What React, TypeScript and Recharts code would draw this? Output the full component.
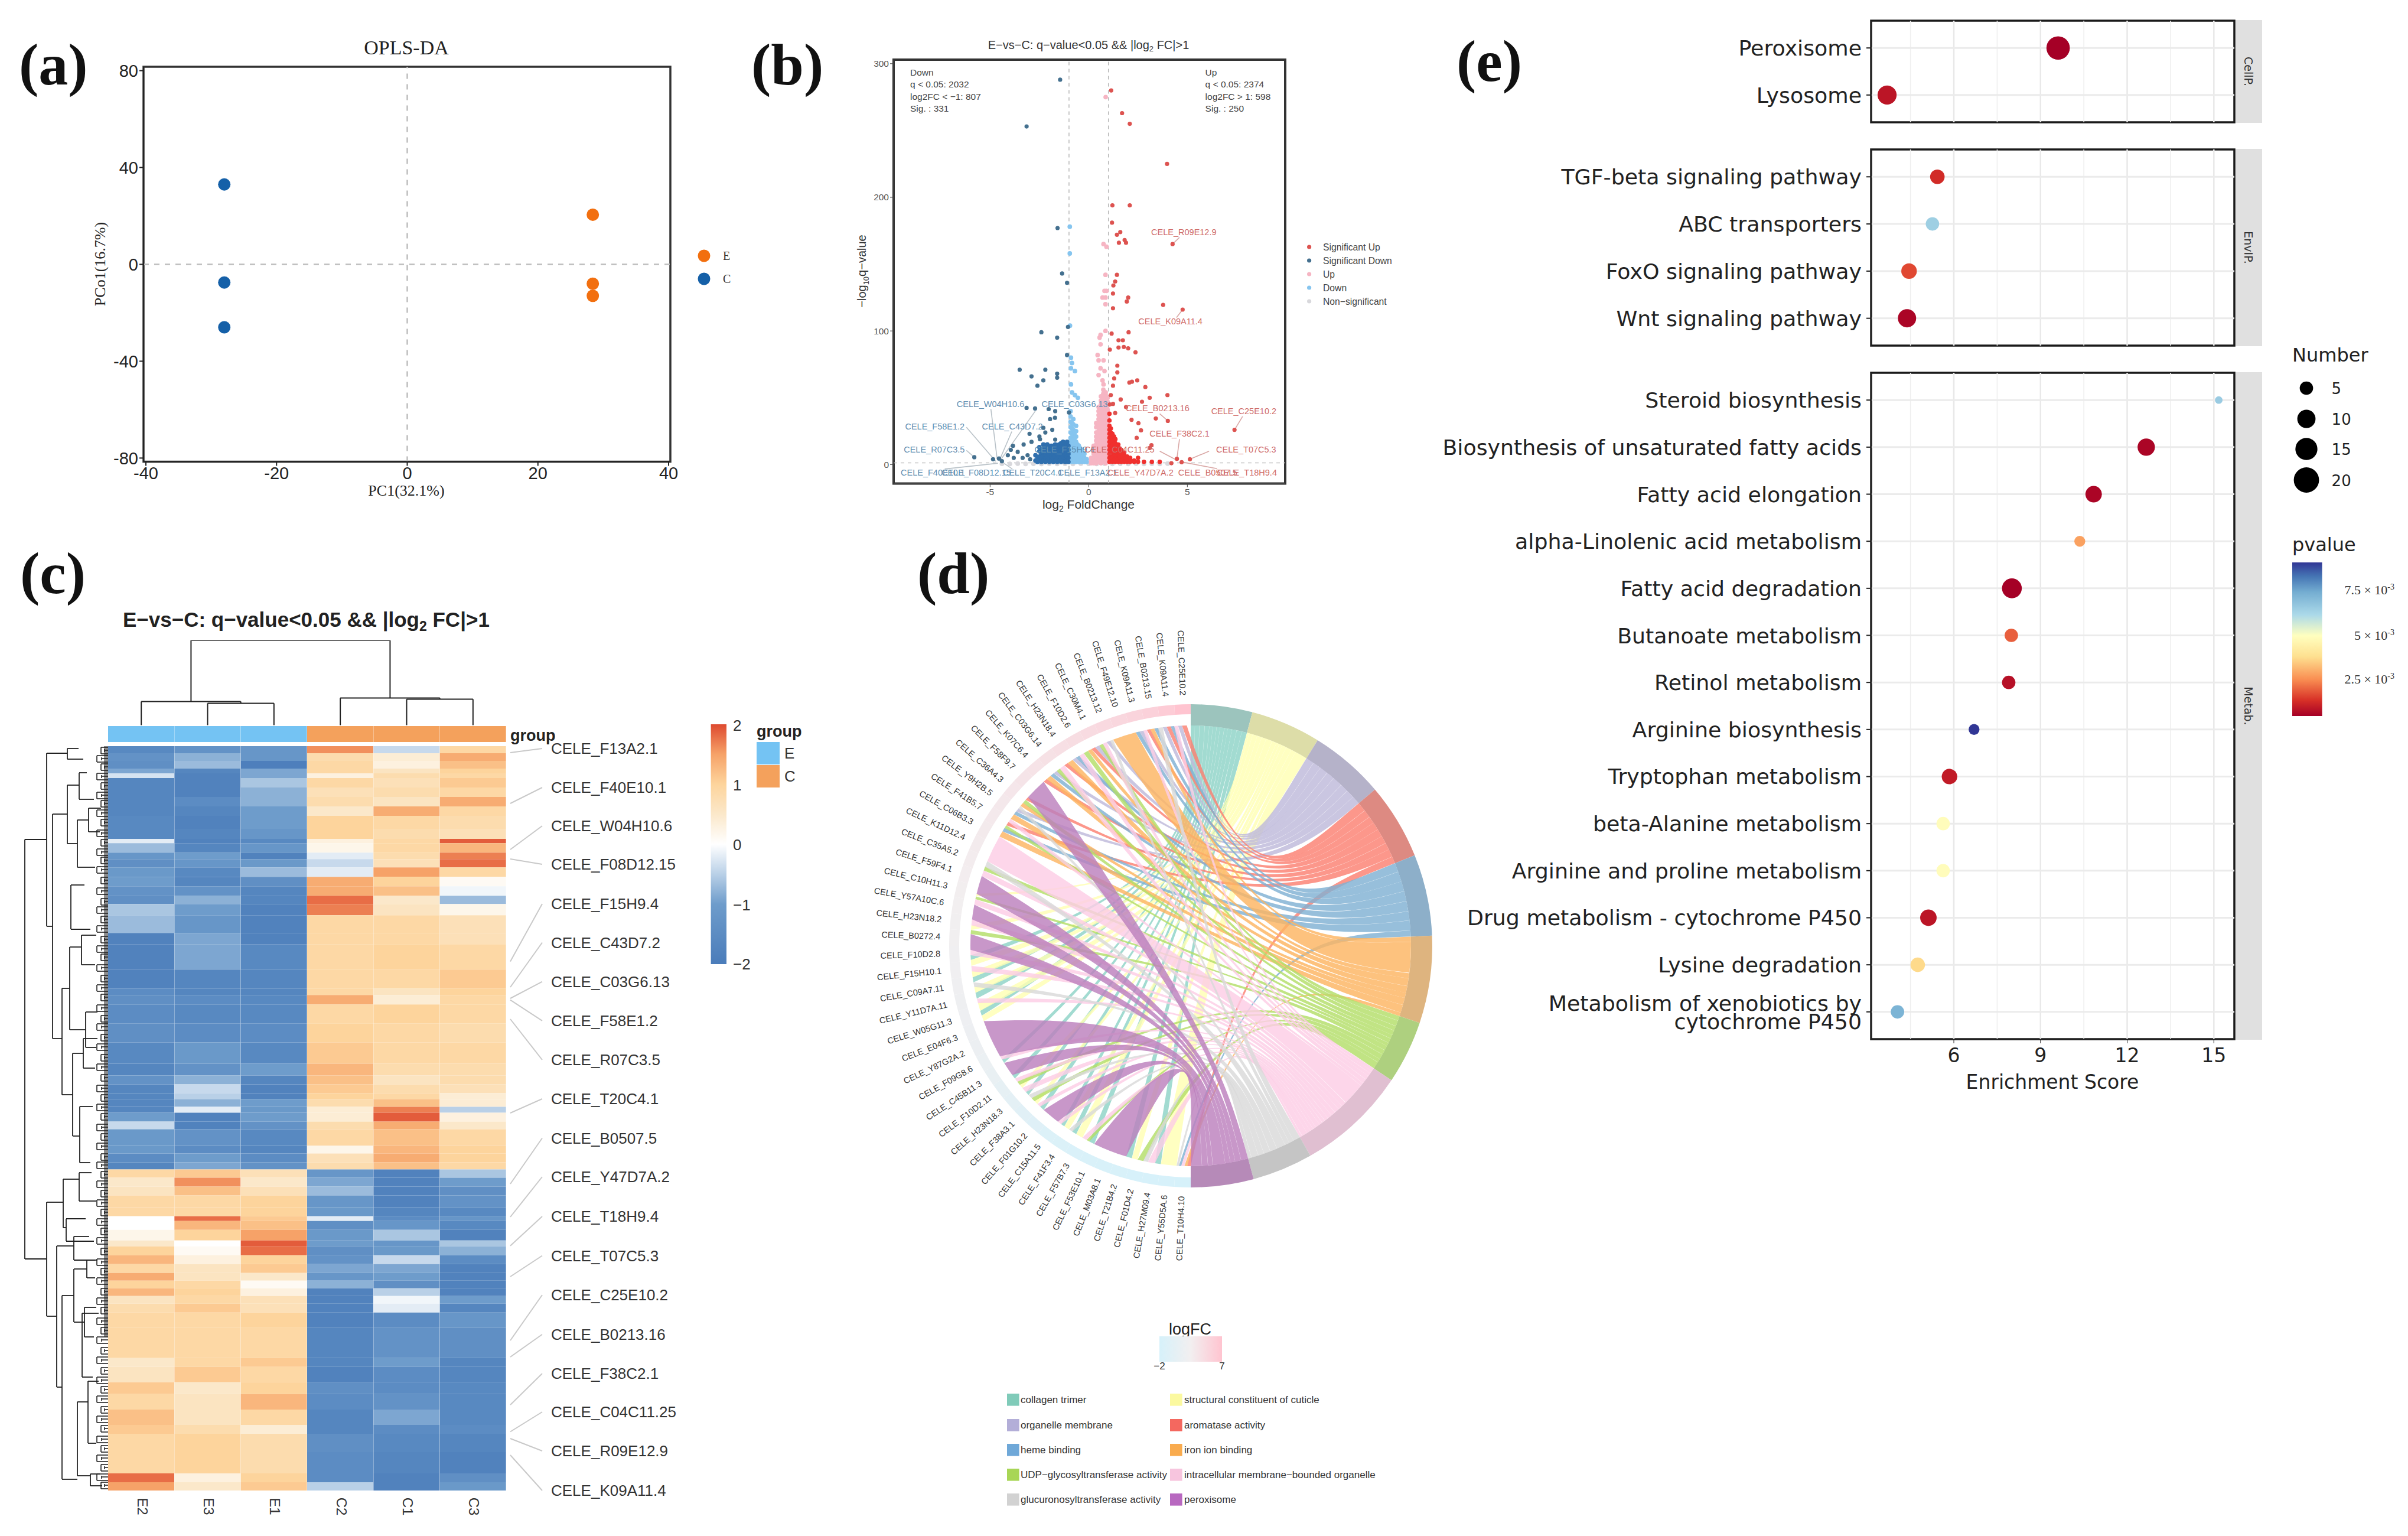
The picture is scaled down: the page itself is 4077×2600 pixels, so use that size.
import React from 'react';
import { ScatterChart, Scatter, XAxis, YAxis, ReferenceLine, ReferenceArea, BarChart, Bar, Cell, PieChart, Pie } from 'recharts';

// ---------- panel a ----------
const opls_E = [{ x: 28.4, y: 20.5 }, { x: 28.4, y: -8 }, { x: 28.4, y: -13 }];
const opls_C = [{ x: -28, y: 33 }, { x: -28, y: -7.5 }, { x: -28, y: -26 }];

// ---------- panel b ----------
const sigUpSparse = [[1.14,280],[1.69,263],[2.08,255],[3.97,225],[1.2,194],[2.08,194],[1.18,181],[1.6,174],[1.43,172],[1.53,166],[1.82,168],[1.89,166],[4.25,165],[1.43,142],[1.34,137],[1.25,134],[1.23,128],[2,125],[1.93,122],[3.77,119.5],[4.76,116],[1.23,117],[1.16,98],[2.02,99],[1.51,93],[1.73,93],[1.51,87.6],[1.78,88],[1.07,86],[2,87],[2.37,84],[1.45,74],[1.45,69],[2.46,63],[1.29,64.5],[1.23,59],[2.06,61.4],[2.19,62],[2.87,58],[3.99,52],[3.09,50],[2.7,47],[1.62,48.7],[1.12,52],[1.07,45],[1.23,45.4],[1.89,43],[4.01,32.7],[3.4,34.5],[2.17,33.5],[2.52,31],[1.34,38.6],[7.39,26],[2.65,25.6],[2.43,20],[3.18,14.5],[3.09,12.4],[4.47,4.3],[5.13,4],[4.71,1.8],[4.19,1]];
const sigUpCols: [number, number[]][] = [[1.05,[2,5,8,11,14,17,20,23,26,29,33,38]],[1.12,[3,6,9,12,15,18,21,24,27]],[1.2,[2,5,8,11,14,17,20,23]],[1.28,[3,6,9,12,15,18,21]],[1.35,[2,4,7,10,13,16,19]],[1.42,[3,6,9,12,15]],[1.5,[2,4,7,10,13,15]],[1.58,[3,6,9,12]],[1.65,[2,5,8,11]],[1.72,[3,6,9]],[1.8,[2,4,7,9]],[1.88,[3,5]],[1.95,[2,4,6]],[2.1,[2,3,5]],[2.3,[2,3]],[2.5,[2,5]],[2.8,[2]],[3.2,[2]],[3.6,[2]]];
const sigDownSparse = [[-1.45,288],[-3.15,253],[-1.58,177],[-1.35,143],[-1.1,136],[-1.05,103],[-2.4,99],[-1.6,95],[-1.1,82],[-3.5,71],[-2.9,66],[-2.2,71],[-2.3,63],[-2.6,59],[-1.6,68],[-1.6,65],[-3.15,42.4],[-2.72,42],[-2.03,41.5],[-1.7,40],[-1,39],[-1.96,34],[-1.71,35],[-2.2,24],[-1.85,26],[-2.5,21],[-3,23],[-2.3,27.5],[-1.7,18.7],[-3.84,14],[-3.3,15],[-2.9,17],[-2.47,19],[-3.6,9.5],[-4.1,7],[-3.8,5],[-4.55,4.5],[-4.85,4],[-4.4,2.5],[-5.8,5.5],[-3.35,5],[-2.97,4],[-3.1,7],[-3.95,11]];
const sigDownCols: [number, number[]][] = [[-2.7,[3,7]],[-2.6,[2,5]],[-2.5,[3,6,10,13]],[-2.4,[2,5,8,11]],[-2.3,[3,6,9,12,15]],[-2.2,[2,5,8,11,14]],[-2.1,[3,6,9,12,15]],[-2,[2,5,8,11,13]],[-1.9,[3,6,9,12,14]],[-1.8,[2,5,8,11,14]],[-1.7,[3,6,9,12,15]],[-1.6,[2,5,8,11,14]],[-1.5,[3,6,9,12,15]],[-1.4,[2,5,8,11,14,16]],[-1.3,[3,6,9,12,14,17]],[-1.2,[2,5,8,11,14,16]],[-1.1,[3,6,9,12,15,17]],[-1.03,[2,5,8,11,14]]];
const upCols: [number, number[]][] = [[0.12,[1,3,5]],[0.25,[1,3,5,8,11,14]],[0.38,[1,3,6,9,12,15,18,21,24,28,31]],[0.5,[2,4,7,10,13,16,19,22,25,28,31,34,37,40,43]],[0.62,[1,3,6,9,12,15,18,21,24,27,30,33,36,39,42,45,48,51]],[0.74,[2,5,8,11,14,17,20,23,26,29,32,35,38,41,44,47,50,53,56]],[0.86,[1,4,7,10,13,16,19,22,25,28,31,34,37,40,43,46,49,52,54]],[0.96,[2,5,8,11,14,17,20,23,26,29,32,35,38,41,44,47,50]]];
const upSparse = [[0.75,165],[0.9,163],[0.85,142],[0.8,130],[0.9,130],[0.7,125],[0.85,125],[0.85,120],[0.86,275],[0.85,100],[0.6,97],[0.55,95],[0.6,90],[0.45,82],[0.5,78],[0.75,78],[0.6,72],[0.8,70],[0.5,67],[0.7,63],[0.75,60]];
const downCols: [number, number[]][] = [[-0.92,[2,5,8,11,14,17,20,24,28,32,36,40]],[-0.85,[3,6,9,12,15,19,23,27,31]],[-0.78,[2,5,8,11,14,18,22,26,30,34]],[-0.71,[3,6,9,12,16,20,24]],[-0.64,[2,5,8,11,14,17,21,25,29]],[-0.57,[3,6,9,12,15]],[-0.5,[2,5,8,11,14]],[-0.43,[3,6,9,12]],[-0.36,[2,5,8,11]],[-0.29,[3,6,9]],[-0.22,[2,5,8]],[-0.1,[2,4]]];
const downSparse = [[-0.96,178],[-0.96,158],[-0.95,104],[-0.9,80],[-0.85,76],[-0.9,72],[-0.7,70],[-0.9,60],[-0.85,54],[-0.7,52],[-0.55,50]];
const nsPoints = [[-4.4,0.6],[-4,0.5],[-3.6,0.7],[-3.2,0.5],[-2.8,0.6],[-2.4,0.5],[-2,0.7],[-1.6,0.5],[-1.2,0.6],[-0.8,0.5],[-0.4,0.7],[0,0.6],[0.4,0.5],[0.8,0.7],[1.2,0.5],[1.6,0.6],[2,0.5],[2.4,0.7],[2.8,0.5],[3.2,0.6],[3.6,0.5],[4,0.7]];
const volcanoBlueLabels = [['CELE_W04H10.6',-4.98,45.4],['CELE_C03G6.13',-0.71,45.4],['CELE_F58E1.2',-7.8,28.4],['CELE_C43D7.2',-3.87,28.4],['CELE_R07C3.5',-7.83,11.4],['CELE_F15H9.4',-1.23,11.4],['CELE_F40E10.1',-7.9,-6.2],['CELE_F08D12.15',-5.7,-6.2],['CELE_T20C4.1',-2.84,-6.2],['CELE_F13A2.1',-0.06,-6.2]];
const volcanoRedLabels = [['CELE_R09E12.9',4.82,174],['CELE_K09A11.4',4.14,107],['CELE_B0213.16',3.49,42],['CELE_C25E10.2',7.86,40],['CELE_F38C2.1',4.6,23],['CELE_T07C5.3',7.98,11.4],['CELE_C04C11.25',1.56,11.4],['CELE_Y47D7A.2',2.62,-6.2],['CELE_B0507.5',6.03,-6.2],['CELE_T18H9.4',8.02,-6.2]];
const volcanoLeaders = [[-4.96,41.6,-4.64,4.1],[-2.71,40,-4.52,2.4],[-6.2,27.9,-4.71,2.4],[-3.9,24.7,-4.52,3.4],[-6.2,10.6,-5.8,5.5],[-7.3,-3.3,-4.6,1],[-3.87,-3.3,-4.3,1],[4.6,170,4.25,165],[4.45,110,4.76,116],[3.6,38,4.01,32.7],[7.8,36,7.39,26],[4.6,19,4.47,4.5],[6.1,10,5.13,4],[3.6,10,4.4,3.8],[6.5,-3,4.7,2]];

// ---------- panel c ----------
const heatSamples = ['E2', 'E3', 'E1', 'C2', 'C1', 'C3'];
const heatRows = [
[12,-1.6,-1.3,-1.2,1.6,-.4,.9],[13,-1.3,-.8,-1.2,.8,.4,1.4],[13,-1.4,-.7,-1.9,.9,.3,1.2],[8,-.9,-1.7,-.9,.9,.6,1],[8,-.3,-1.8,-.9,.3,.8,.9],
[16,-1.7,-1.8,-.6,.9,.7,1.1],[16,-1.7,-1.8,-.8,.7,.8,.9],[16,-1.7,-1.5,-.8,.8,.6,1.4],[16,-1.7,-1.7,-1,.5,1.4,.9],[22,-1.6,-1.8,-1,1,.9,.8],
[17,-1.6,-1.7,-1.2,1,.8,.7],[7,-.2,-1.8,-1.6,.3,.9,1.9],[16,-.7,-1.7,-1.2,.2,.9,1.3],[11,-1.2,-1,-1.8,-.2,.8,1.7],[14,-1.4,-1.2,-1.1,-.4,.7,1.8],
[16,-1.1,-1.6,-.7,-.2,1.5,.9],[16,-1,-1.7,-1.4,1.4,1,.1],[16,-1.3,-1.3,-1.7,1.4,1.2,-.1],[14,-1.4,-.8,-1.7,1.8,.5,-.7],[19,-.6,-1,-1.8,1.7,.6,.2],
[30,-.7,-1.2,-1.8,.9,.9,.7],[19,-1.8,-.9,-1.8,.9,.9,.7],[43,-1.8,-.9,-1.6,.9,1,.9],[32,-1.8,-1.7,-1.7,.9,.9,1.1],[11,-1.5,-1.7,-1.7,.9,.6,1],
[16,-1.4,-1.5,-1.6,1.4,.4,.9],[32,-1.5,-1.6,-1.6,.9,1,.9],[32,-1.4,-1.5,-1.5,1,.9,.8],[36,-1.6,-1.1,-1.6,1.1,.9,.9],
[20,-1.7,-1.3,-1,1.3,.8,.8],[15,-1.3,-.8,-1.7,1.2,.6,.8],[15,-1.7,-.4,-1.8,1.1,.8,.7],[10,-1.7,-.5,-1.8,1,.9,.4],[13,-1.7,-.8,-1,.8,1.2,.4],
[10,-1.7,-.2,-1.1,.4,1.7,-.5],[15,-1,-1.8,-1,.4,1.9,.3],[13,-.4,-1.8,-1.3,.8,1.4,.5],[28,-1.1,-1.3,-1.6,.9,1.2,.9],[13,-1.1,-1.5,-1.7,.2,1.3,1],
[15,-1.5,-1,-1.5,.7,1.4,1],[12,-1.7,-.9,-1.3,.8,1.2,.9],
[14,.9,1.1,.7,-1.2,-1.8,-.6],[15,.5,1.6,.5,-.9,-1.8,-1],[15,.6,1.2,.7,-.7,-1.8,-1.4],[20,.9,.9,1,-1.2,-1.8,-1.3],[15,.9,.9,1,-1.1,-1.7,-1.6],
[8,0,1.8,1.1,-.2,-1.5,-1.2],[15,0,1.3,1.2,-1.4,-1.2,-1.6],[18,.2,1,1.5,-1.1,-.6,-1.8],[10,.5,0,1.9,-1,-1.2,-.6],[15,1,.1,1.8,-1.4,-1.1,-.8],
[15,1.3,.3,1,-1.3,-.4,-1.5],[15,.9,.6,1.1,-.9,-.9,-1.8],[13,1.4,.6,.5,-1.2,-1,-1.8],[13,1,.9,.1,-.8,-1.4,-1.8],[13,1.3,1,.3,-1.8,-.5,-1.8],
[13,.6,.9,.7,-1.8,-.1,-1],[15,.8,1.1,.7,-1.8,-.2,-1.7],[26,.9,.9,1,-1.8,-1.5,-1.2],[51,.9,.9,.9,-1.7,-1.3,-1.4],[15,.5,.9,1.1,-1.7,-1,-1.7],
[26,.6,1.1,.9,-1.8,-1.5,-1.7],[20,1.1,.5,1,-1.4,-1.5,-1.6],[26,.9,.6,1.3,-1.5,-1.3,-1.6],[26,1.2,.6,.9,-1.7,-.9,-1.6],[15,1.1,.8,.4,-1.7,-1.5,-1.5],
[31,.9,1,.8,-1.4,-1.6,-1.7],[36,.9,1,.8,-1.5,-1.7,-1.8],[15,1.8,.3,1,-1.5,-1.8,-1.4],[14,1.5,.5,1.1,-.5,-1.8,-1.1],
];
const heatGenes = ['CELE_F13A2.1','CELE_F40E10.1','CELE_W04H10.6','CELE_F08D12.15','CELE_F15H9.4','CELE_C43D7.2','CELE_C03G6.13','CELE_F58E1.2','CELE_R07C3.5','CELE_T20C4.1','CELE_B0507.5','CELE_Y47D7A.2','CELE_T18H9.4','CELE_T07C5.3','CELE_C25E10.2','CELE_B0213.16','CELE_F38C2.1','CELE_C04C11.25','CELE_R09E12.9','CELE_K09A11.4'];
const heatGeneY = [1267,1333,1398,1463,1530,1595.5,1661.6,1727.8,1794,1860,1926.5,1992,2059,2125.5,2192,2258.7,2325,2390,2456,2523];
const heatLeaderFrom = [1274,1360,1438,1454,1627.5,1671,1690,1692.6,1725,1884,2004,2060,2108.7,2161,2269,2297,2378,2423.5,2435,2463];
const topDendro = [[1.5,0,1.5,37],[2.5,0,2.5,37],[1.5,37,2.5,37],[0.5,0,0.5,40],[2,37,2,40],[0.5,40,2,40],[3.5,0,3.5,46],[4.5,0,4.5,44],[5.5,0,5.5,44],[4.5,44,5.5,44],[5,44,5,46],[3.5,46,5,46],[1.25,40,1.25,143.5],[4.25,46,4.25,143.5],[1.25,143.5,4.25,143.5]];
const leftDendro = [[141,158,868,104,104],[104,12,305,69,94],[69,4,22,50,42],[94,115,495,69,78],[69,66,165,49,52],[49,45,90,36,24],[52,125,205,33,22],[33,105,145,12,14],[78,410,590,65,60],[65,340,480,45,38],[63,235,310,40,30],[60,520,660,42,48],[48,610,705,26,30],[42,495,545,18,22],[45,320,370,20,22],[38,450,510,18,20],[104,772,965,76,87],[76,733,815,49,71],[49,722,770,28,20],[71,800,838,38,24],[87,846,1085,58,78],[58,830,870,32,22],[78,930,1241,58,52],[58,885,975,36,40],[36,870,900,18,22],[40,950,1000,20,24],[52,1110,1235,34,30],[44,960,1068,16,26],[34,1075,1180,16,20],[30,1232,1252,14,10]];
const leafClusters = [2,16,30,46,62,78,92,108,124,142,158,174,188,204,222,240,258,272,288,304,322,338,352,370,388,404,420,438,456,470,488,504,522,538,556,574,590,606,622,640,656,672,690,704,720,736,752,768,784,800,816,832,850,868,884,900,918,934,950,968,984,1000,1018,1034,1052,1068,1084,1100,1118,1134,1150,1168,1184,1200,1216,1232,1246];

// ---------- panel d ----------
const termNames = ['collagen trimer','structural constituent of cuticle','organelle membrane','aromatase activity','heme binding','iron ion binding','UDP−glycosyltransferase activity','intracellular membrane−bounded organelle','glucuronosyltransferase activity','peroxisome'];
const termSpans = [14.8,16.9,18,18.3,19.6,21,15.2,26.5,14.6,15.1];
const termFill = ['#8DD3C7','#FFFFB3','#BEBADA','#FB8072','#80B1D3','#FDB462','#B3DE69','#FCCDE5','#D9D9D9','#BC80BD'];
const termRing = ['#9cc4bd','#dddda8','#b5b2c9','#dd8a82','#8dafc9','#deb47f','#aed07f','#e0bfd1','#c5c5c5','#b68ab8'];
const chordGenes = ['CELE_T10H4.10','CELE_Y55D5A.6','CELE_H27M09.4','CELE_F01D4.2','CELE_T21B4.2','CELE_M03A8.1','CELE_F53E10.1','CELE_F57B7.3','CELE_F41F3.4','CELE_C15A11.5','CELE_F01G10.2','CELE_F38A3.1','CELE_H23N18.3','CELE_F10D2.11','CELE_C45B11.3','CELE_F09G8.6','CELE_Y87G2A.2','CELE_E04F6.3','CELE_W05G11.3','CELE_Y11D7A.11','CELE_C09A7.11','CELE_F15H10.1','CELE_F10D2.8','CELE_B0272.4','CELE_H23N18.2','CELE_Y57A10C.6','CELE_C10H11.3','CELE_F59F4.1','CELE_C35A5.2','CELE_K11D12.4','CELE_C06B3.3','CELE_F41B5.7','CELE_Y9H2B.5','CELE_C36A4.3','CELE_F58F9.7','CELE_K07C6.4','CELE_C03G6.14','CELE_H23N18.4','CELE_F10D2.6','CELE_C30M4.1','CELE_B0213.12','CELE_F49E12.10','CELE_K09A11.3','CELE_B0213.15','CELE_K09A11.4','CELE_C25E10.2'];
const chordLogFC = [-2,-1.9,-1.9,-1.8,-1.7,-1.6,-1.5,-1.4,-1.2,-1,-.6,-.2,.2,.6,1,1.3,1.5,1.7,1.8,1.9,2,2.1,2.2,2.3,2.4,2.5,2.6,2.7,2.8,2.9,3,3.1,3.2,3.4,3.6,3.8,4,4.2,4.4,4.6,4.8,5,5.3,5.6,6.2,7];
const chordTerm = [3,5,7,4,8,1,0,7,8,6,1,0,9,0,6,7,1,0,8,1,0,7,9,0,7,1,6,8,0,7,1,6,7,0,9,0,7,9,1,0,1,7,0,1,8,0,1,7,1,0,7,9,6,1,7,9,7,6,1,9,7,6,8,7,5,4,6,3,7,5,4,2,8,5,6,3,9,3,5,4,2,6,7,3,5,2,4,7,6,5,3,2,6,7,2,8,5,4,2,7,3,5,4,8,2,3,4,7,2,3];
const chordSpan = [.9,.7,.8,.6,.6,4,1.5,1.8,1.2,1.5,1.5,1.5,8.7,1.4,.8,1.2,1.8,1.2,1,1.4,1,1,4.7,1.2,1,1,1.1,1.1,1,1.4,1,1,1,1.1,3.7,1,1,9.8,1.5,1.3,2,1.2,1.5,1.5,1.2,1.3,1.5,1.4,1.5,1.2,1.4,4,1,1.2,1.5,3.8,1.4,.7,.7,4.7,1.5,1,1.5,7,1.5,1,.8,1,1,1.4,.9,1,.8,1,1,.9,5.6,1,1.3,1,1,1,1.4,1,1.5,1,1,1.3,1.2,1,1,1.2,1,1,1,.8,6,1,1,.9,.9,1,1,1.2,1,1,.9,1,1,1.2,1];

// ---------- panel e ----------
const ePanels = [
  { strip: 'CellP.', names: ['Peroxisome', 'Lysosome'], score: [9.61, 3.69], number: [17, 11], p: [0.4, 0.8] },
  { strip: 'EnvIP.', names: ['TGF-beta signaling pathway', 'ABC transporters', 'FoxO signaling pathway', 'Wnt signaling pathway'], score: [5.43, 5.26, 4.45, 4.38], number: [6, 5, 7, 10], p: [1.2, 6.5, 1.6, 0.5] },
  { strip: 'Metab.', names: ['Steroid biosynthesis', 'Biosynthesis of unsaturated fatty acids', 'Fatty acid elongation', 'alpha-Linolenic acid metabolism', 'Fatty acid degradation', 'Butanoate metabolism', 'Retinol metabolism', 'Arginine biosynthesis', 'Tryptophan metabolism', 'beta-Alanine metabolism', 'Arginine and proline metabolism', 'Drug metabolism - cytochrome P450', 'Lysine degradation', 'Metabolism of xenobiotics by\ncytochrome P450'], score: [15.17, 12.66, 10.84, 10.36, 8.01, 7.99, 7.9, 6.7, 5.85, 5.63, 5.63, 5.12, 4.75, 4.05], number: [1, 9, 8, 3, 12, 5, 5, 3, 7, 5, 5, 8, 6, 5], p: [6.6, 0.5, 0.5, 2.8, 0.4, 1.9, 0.7, 9.2, 0.9, 4.9, 4.9, 0.8, 3.7, 7.3] },
];
const eBoxes = [{ top: 35, bottom: 207 }, { top: 253, bottom: 585 }, { top: 631, bottom: 1759 }];
const sizeLegend = [5, 10, 15, 20];

// ---------- helpers ----------
const SANS = '"Liberation Sans", Arial, sans-serif';
const SERIF = '"Liberation Serif", serif';
const DJ = '"DejaVu Sans", sans-serif';

const hex = (h: string) => [parseInt(h.slice(1, 3), 16), parseInt(h.slice(3, 5), 16), parseInt(h.slice(5, 7), 16)];
const ramp = (stops: [number, string][], v: number) => {
  if (v <= stops[0][0]) return stops[0][1];
  for (let i = 1; i < stops.length; i++) {
    if (v <= stops[i][0]) {
      const t = (v - stops[i - 1][0]) / (stops[i][0] - stops[i - 1][0]);
      const a = hex(stops[i - 1][1]), b = hex(stops[i][1]);
      return `rgb(${a.map((c, k) => Math.round(c + (b[k] - c) * t)).join(',')})`;
    }
  }
  return stops[stops.length - 1][1];
};
const heatStops: [number, string][] = [[-2, '#4a7cba'], [-1, '#6e9ccb'], [-0.5, '#b9d0e7'], [0, '#ffffff'], [0.5, '#fbe8ca'], [1, '#fdd49c'], [1.5, '#f6a268'], [2, '#de4a30']];
const pStops: [number, string][] = [[0.4, '#a50026'], [1.3, '#d73027'], [2.5, '#f98e52'], [3.8, '#fee090'], [5, '#ffffbf'], [6.2, '#abd9e9'], [7.5, '#74add1'], [8.4, '#4575b4'], [9.2, '#313695']];
const fcStops: [number, string][] = [[-2, '#d6f1fa'], [2.5, '#f2eff0'], [7, '#ffc4d0']];
const numR = (n: number) => Math.sqrt(41 + 21.9 * (n - 1));

const flat = (cols: [number, number[]][]) => cols.flatMap(([x, ys]) => ys.map((y) => ({ x, y })));
const pairs = (a: number[][]) => a.map(([x, y]) => ({ x, y }));

const Abs = ({ l, t, children }: any) => <div style={{ position: 'absolute', left: l, top: t }}>{children}</div>;
const circleShape = (r: number, fill: string) => (p: any) => <circle cx={p.cx} cy={p.cy} r={r} fill={fill} />;

const frameRect = (xd: number[], yd: number[], stroke: string, w: number) => (
  <ReferenceArea x1={xd[0]} x2={xd[1]} y1={yd[0]} y2={yd[1]} fill="none" stroke={stroke} strokeWidth={w} ifOverflow="visible" />
);
const PAD = 5;

// Panel a
const PanelA = () => {
  const xd = [-40.36, 40.27], yd = [-81.5, 81.6];
  const axisW = 80, axisH = 60, rightRoom = 40, topRoom = 30;
  return (
    <Abs l={243 - axisW} t={112.5 - topRoom}>
      <ScatterChart width={892 + axisW + rightRoom} height={668.5 + axisH + topRoom} margin={{ top: topRoom, right: rightRoom, bottom: 0, left: 0 }}>
        <XAxis type="number" dataKey="x" domain={xd} allowDataOverflow ticks={[-40, -20, 0, 20, 40]} interval={0} height={axisH} tickSize={7} tick={{ fontSize: 29, fontFamily: SANS, fill: '#222' }} stroke="#222" strokeWidth={2} />
        <YAxis type="number" dataKey="y" domain={yd} allowDataOverflow ticks={[-80, -40, 0, 40, 80]} interval={0} width={axisW} tickSize={7} tick={{ fontSize: 29, fontFamily: SANS, fill: '#222' }} stroke="#222" strokeWidth={2} />
        <ReferenceLine x={0} stroke="#bdbdbd" strokeWidth={2.5} strokeDasharray="9 9" />
        <ReferenceLine y={0} stroke="#bdbdbd" strokeWidth={2.5} strokeDasharray="9 9" />
        {frameRect(xd, yd, '#333', 3.5)}
        <Scatter data={opls_E} isAnimationActive={false} shape={circleShape(10.5, '#f26f0f')} />
        <Scatter data={opls_C} isAnimationActive={false} shape={circleShape(10.5, '#1560a8')} />
      </ScatterChart>
    </Abs>
  );
};

// Panel b
const PanelB = () => {
  const xd = [-9.89, 9.96], yd = [-14.2, 303];
  const axisW = 50, axisH = 36, topRoom = 15;
  const textShape = (fill: string) => (p: any) => (
    <text x={p.cx} y={p.cy + 5} textAnchor="middle" fontSize={14.5} fontFamily={SANS} fill={fill}>{p.payload?.label ?? p.label}</text>
  );
  const labs = (a: any[]) => a.map(([label, x, y]) => ({ label, x, y }));
  return (
    <Abs l={1512.6 - axisW} t={100.5 - topRoom}>
      <ScatterChart width={663 + axisW + PAD} height={717.5 + axisH + topRoom} margin={{ top: topRoom, right: PAD, bottom: 0, left: 0 }}>
        <XAxis type="number" dataKey="x" domain={xd} allowDataOverflow ticks={[-5, 0, 5]} height={axisH} tickSize={6} tick={{ fontSize: 15.5, fontFamily: SANS, fill: '#555' }} stroke="#444" />
        <YAxis type="number" dataKey="y" domain={yd} allowDataOverflow ticks={[0, 100, 200, 300]} width={axisW} tickSize={6} tick={{ fontSize: 15.5, fontFamily: SANS, fill: '#555' }} stroke="#444" />
        <Scatter data={pairs(nsPoints)} isAnimationActive={false} shape={circleShape(4, '#d8d8dc')} />
        <Scatter data={[...flat(downCols), ...pairs(downSparse)]} isAnimationActive={false} shape={circleShape(3.9, '#86c5ef')} />
        <Scatter data={[...flat(upCols), ...pairs(upSparse)]} isAnimationActive={false} shape={circleShape(3.9, '#f6b5c3')} />
        <Scatter data={flat(sigDownCols)} isAnimationActive={false} shape={circleShape(3.9, '#2f6fae')} />
        <Scatter data={pairs(sigDownSparse)} isAnimationActive={false} shape={circleShape(3.6, '#44708f')} />
        <Scatter data={flat(sigUpCols)} isAnimationActive={false} shape={circleShape(3.8, '#f0302e')} />
        <Scatter data={pairs(sigUpSparse)} isAnimationActive={false} shape={circleShape(3.6, '#dd5350')} />
        <ReferenceLine x={-1} stroke="#b8b8b8" strokeWidth={1.5} strokeDasharray="6 6" />
        <ReferenceLine x={1} stroke="#b8b8b8" strokeWidth={1.5} strokeDasharray="6 6" />
        <ReferenceLine y={1.3} stroke="#c4c4c4" strokeWidth={1.5} strokeDasharray="6 6" />
        {volcanoLeaders.map((s, i) => (
          <ReferenceLine key={i} segment={[{ x: s[0], y: s[1] }, { x: s[2], y: s[3] }]} stroke={i < 7 ? '#b9c2c8' : '#d9a7a5'} strokeWidth={1.6} />
        ))}
        <Scatter data={labs(volcanoBlueLabels)} isAnimationActive={false} shape={textShape('#5f8fb2')} />
        <Scatter data={labs(volcanoRedLabels)} isAnimationActive={false} shape={textShape('#cf6b68')} />
        {frameRect(xd, yd, '#333', 4)}
      </ScatterChart>
    </Abs>
  );
};

// Panel c
const PanelC = () => {
  const total = heatRows.reduce((s, r) => s + r[0], 0);
  const table = heatSamples.map((sample) => {
    const o: any = { sample };
    heatRows.forEach((r, i) => { o['r' + i] = r[0]; });
    return o;
  });
  const SampleTick = (p: any) => (
    <text x={p.x} y={p.y + 19} transform={`rotate(90 ${p.x} ${p.y + 19})`} fontSize={24} fontFamily={SANS} fill="#333" textAnchor="middle" dominantBaseline="middle">{p.payload.value}</text>
  );
  return (
    <>
      <Abs l={183} t={1263}>
        <BarChart width={674} height={1260 + 60} data={table} barCategoryGap={0} margin={{ top: 0, right: 0, bottom: 0, left: 0 }}>
          <XAxis dataKey="sample" height={60} axisLine={false} tickLine={false} interval={0} tick={SampleTick} />
          <YAxis hide reversed type="number" domain={[0, total]} allowDataOverflow />
          {heatRows.map((r, i) => (
            <Bar key={i} dataKey={'r' + i} stackId="h" isAnimationActive={false}>
              {heatSamples.map((s, si) => <Cell key={s} fill={ramp(heatStops, r[si + 1])} />)}
            </Bar>
          ))}
        </BarChart>
      </Abs>
      <Abs l={183} t={1229}>
        <BarChart width={674} height={27} data={heatSamples.map((sample) => ({ sample, v: 1 }))} barCategoryGap={0} margin={{ top: 0, right: 0, bottom: 0, left: 0 }}>
          <XAxis dataKey="sample" hide />
          <YAxis hide domain={[0, 1]} />
          <Bar dataKey="v" isAnimationActive={false}>
            {heatSamples.map((s) => <Cell key={s} fill={s[0] === 'E' ? '#74c3f3' : '#f4a15c'} />)}
          </Bar>
        </BarChart>
      </Abs>
      <Abs l={183} t={1084}>
        <ScatterChart width={674} height={143.5} margin={{ top: 0, right: 0, bottom: 0, left: 0 }}>
          <XAxis type="number" dataKey="x" hide domain={[0, 6]} allowDataOverflow />
          <YAxis type="number" dataKey="y" hide domain={[0, 143.5]} allowDataOverflow />
          <Scatter data={[{ x: 3, y: 70 }]} isAnimationActive={false} shape={() => <g />} />
          {topDendro.map((s, i) => (
            <ReferenceLine key={i} segment={[{ x: s[0], y: s[1] }, { x: s[2], y: s[3] }]} stroke="#222" strokeWidth={2} ifOverflow="visible" />
          ))}
        </ScatterChart>
      </Abs>
      <Abs l={40} t={1263}>
        <ScatterChart width={143} height={1260} margin={{ top: 0, right: 0, bottom: 0, left: 0 }}>
          <XAxis type="number" dataKey="x" hide reversed domain={[0, 143]} allowDataOverflow />
          <YAxis type="number" dataKey="y" hide reversed domain={[0, 1260]} allowDataOverflow />
          <Scatter data={[{ x: 70, y: 600 }]} isAnimationActive={false} shape={() => <g />} />
          <ReferenceArea x1={0} x2={7} y1={0} y2={1000} fill="#1c1c1c" stroke="none" />
          {leftDendro.flatMap((b, i) => [
            <ReferenceLine key={i + 'v'} segment={[{ x: b[0], y: b[1] }, { x: b[0], y: b[2] }]} stroke="#222" strokeWidth={1.8} ifOverflow="visible" />,
            <ReferenceLine key={i + 'a'} segment={[{ x: b[0], y: b[1] }, { x: b[3], y: b[1] }]} stroke="#222" strokeWidth={1.8} ifOverflow="visible" />,
            <ReferenceLine key={i + 'b'} segment={[{ x: b[0], y: b[2] }, { x: b[4], y: b[2] }]} stroke="#222" strokeWidth={1.8} ifOverflow="visible" />,
          ])}
          {leafClusters.flatMap((r, i) => {
            const h = 12 + ((i * 7) % 14);
            const h2 = 6 + ((i * 5) % 10);
            return [
              <ReferenceLine key={i + 'lv'} segment={[{ x: h, y: r }, { x: h, y: r + 11 }]} stroke="#222" strokeWidth={1.6} ifOverflow="visible" />,
              <ReferenceLine key={i + 'la'} segment={[{ x: h, y: r }, { x: 0, y: r }]} stroke="#222" strokeWidth={1.6} ifOverflow="visible" />,
              <ReferenceLine key={i + 'lb'} segment={[{ x: h, y: r + 11 }, { x: 0, y: r + 11 }]} stroke="#222" strokeWidth={1.6} ifOverflow="visible" />,
              <ReferenceLine key={i + 'lc'} segment={[{ x: h2, y: r + 3 }, { x: h2, y: r + 8 }]} stroke="#222" strokeWidth={1.6} ifOverflow="visible" />,
              <ReferenceLine key={i + 'ld'} segment={[{ x: h2, y: r + 5 }, { x: 0, y: r + 5 }]} stroke="#222" strokeWidth={1.6} ifOverflow="visible" />,
            ];
          })}
        </ScatterChart>
      </Abs>
    </>
  );
};

// Panel d
const R_IN = 373;
const buildRibbons = () => {
  const totalSpan = chordSpan.reduce((a, b) => a + b, 0);
  let pos = 180;
  const genes = chordSpan.map((s, i) => {
    const w = (s / totalSpan) * 180;
    const o = { i, term: chordTerm[i], g1: pos, g2: pos + w, w };
    pos += w;
    return o;
  });
  const out: any[] = [];
  let a0 = 0;
  termSpans.forEach((ts, term) => {
    const links = genes.filter((g) => g.term === term).sort((a, b) => b.g1 - a.g1);
    const sum = links.reduce((a, l) => a + l.w, 0);
    let p = a0;
    links.forEach((l) => {
      const w = (l.w / sum) * ts;
      out.push({ x: 0, y: 0, t1: p, t2: p + w * 0.985, g1: l.g1, g2: l.g2, term, mid: a0 + ts / 2 });
      p += w;
    });
    a0 += ts;
  });
  return out.sort((a, b) => a.term - b.term);
};
const ribbonShape = (p: any) => {
  const d = p.payload ?? p;
  const { cx, cy } = p;
  const pt = (deg: number, r: number) => {
    const t = (deg * Math.PI) / 180;
    return `${(cx + r * Math.sin(t)).toFixed(1)} ${(cy - r * Math.cos(t)).toFixed(1)}`;
  };
  const c = pt(d.mid, R_IN * 0.3);
  const path = `M${pt(d.t1, R_IN)} A${R_IN} ${R_IN} 0 0 1 ${pt(d.t2, R_IN)} C${pt(d.t2, R_IN * 0.6)} ${c} ${pt(d.g1, R_IN)} A${R_IN} ${R_IN} 0 0 1 ${pt(d.g2, R_IN)} C${c} ${pt(d.t1, R_IN * 0.6)} ${pt(d.t1, R_IN)} Z`;
  return <path d={path} fill={termFill[d.term]} fillOpacity={0.82} stroke="none" />;
};
const PanelD = () => {
  const geneLabel = (p: any) => {
    const clock = 90 - p.midAngle;
    const t = (clock * Math.PI) / 180;
    const x = p.cx + 424 * Math.sin(t);
    const y = p.cy - 424 * Math.cos(t);
    const rot = ((clock % 360) + 360) % 360 - 270;
    return (
      <text x={x} y={y} transform={`rotate(${rot} ${x} ${y})`} textAnchor="end" dominantBaseline="middle" fontSize={14.5} fontFamily={SANS} fill="#333">{chordGenes[p.index]}</text>
    );
  };
  return (
    <>
      <Abs l={1416} t={1000.5}>
        <PieChart width={1200} height={1200} margin={{ top: 0, right: 0, bottom: 0, left: 0 }}>
          <Pie data={termSpans.map((value, i) => ({ value, name: termNames[i] }))} dataKey="value" cx={600} cy={600} innerRadius={R_IN} outerRadius={409} startAngle={90} endAngle={-90} stroke="none" isAnimationActive={false}>
            {termSpans.map((s, i) => <Cell key={i} fill={termRing[i]} />)}
          </Pie>
          <Pie data={chordGenes.map((name) => ({ name, value: 1 }))} dataKey="value" cx={600} cy={600} innerRadius={392} outerRadius={409} startAngle={-90} endAngle={-270} stroke="none" label={geneLabel} labelLine={false} isAnimationActive={false}>
            {chordGenes.map((g, i) => <Cell key={g} fill={ramp(fcStops, chordLogFC[i])} />)}
          </Pie>
        </PieChart>
      </Abs>
      <Abs l={1416} t={1000.5}>
        <ScatterChart width={1200} height={1200} margin={{ top: 0, right: 0, bottom: 0, left: 0 }}>
          <XAxis type="number" dataKey="x" hide domain={[-1, 1]} allowDataOverflow />
          <YAxis type="number" dataKey="y" hide domain={[-1, 1]} allowDataOverflow />
          <Scatter data={buildRibbons()} isAnimationActive={false} shape={ribbonShape} />
        </ScatterChart>
      </Abs>
    </>
  );
};

// Panel e
const PanelE = () => {
  const xd = [3.137, 15.71];
  const axisW = 768;
  return (
    <>
      {ePanels.map((pn, k) => {
        const box = eBoxes[k];
        const n = pn.names.length;
        const yd = [-0.58, n - 0.42];
        const last = k === 2;
        const axisH = last ? 90 : PAD;
        const data = pn.names.map((name, i) => ({ x: pn.score[i], y: i, number: pn.number[i], p: pn.p[i] }));
        const NameTick = (p: any) => {
          const lines = pn.names[p.payload.value].split('\n');
          return (
            <text x={p.x - 6} y={p.y} textAnchor="end" fontSize={36.3} fontFamily={DJ} fill="#222">
              {lines.map((l, i) => (
                <tspan key={i} x={p.x - 6} dy={i === 0 ? (lines.length > 1 ? -2 : 13) : 31}>{l}</tspan>
              ))}
            </text>
          );
        };
        return (
          <Abs key={k} l={3168 - axisW} t={box.top - PAD}>
            <ScatterChart width={615 + axisW + PAD} height={box.bottom - box.top + axisH + PAD} margin={{ top: PAD, right: PAD, bottom: last ? 0 : PAD, left: 0 }}>
              <XAxis type="number" dataKey="x" domain={xd} allowDataOverflow ticks={[6, 9, 12, 15]} hide={!last} height={last ? axisH : 1} tickSize={7} tickMargin={9} tick={{ fontSize: 33, fontFamily: DJ, fill: '#222' }} stroke="#222" />
              <YAxis type="number" dataKey="y" reversed domain={yd} allowDataOverflow ticks={pn.names.map((_, i) => i)} interval={0} width={axisW} tickSize={8} tick={NameTick} stroke="#222" strokeWidth={2} />
              {[4.5, 7.5, 10.5, 13.5].map((v) => <ReferenceLine key={v} x={v} stroke="#efefef" strokeWidth={1.6} />)}
              {[6, 9, 12, 15].map((v) => <ReferenceLine key={v} x={v} stroke="#e9e9e9" strokeWidth={2.6} />)}
              {pn.names.map((_, i) => <ReferenceLine key={i} y={i} stroke="#ebebeb" strokeWidth={3} />)}
              {frameRect(xd, yd, '#1a1a1a', 3.5)}
              <Scatter data={data} isAnimationActive={false} shape={(p: any) => {
                const d = p.payload ?? p;
                return <circle cx={p.cx} cy={p.cy} r={numR(d.number)} fill={ramp(pStops, d.p)} />;
              }} />
            </ScatterChart>
          </Abs>
        );
      })}
    </>
  );
};

// Text, legends and other decoration drawn around the charts
const Overlay = () => {
  const letters: [string, number, number][] = [['(a)', 32, 143], ['(b)', 1272, 143], ['(c)', 34, 1004], ['(d)', 1553, 1004], ['(e)', 2466, 137]];
  const legendB: [string, string][] = [['Significant Up', '#dd5350'], ['Significant Down', '#44708f'], ['Up', '#f6b5c3'], ['Down', '#86c5ef'], ['Non−significant', '#d8d8dc']];
  const ySlots = [2369, 2412, 2454, 2496, 2538];
  const swatch = ['#80cbb9', '#fbf9a0', '#b3aed8', '#f4685f', '#6fa8d8', '#f9ab4e', '#a8d656', '#f7c5de', '#d2d2d2', '#b868c0'];
  const pTicks: [string, string, number][] = [['7.5 × 10', '-3', 998], ['5 × 10', '-3', 1075], ['2.5 × 10', '-3', 1149]];
  return (
    <svg width={4077} height={2600} style={{ position: 'absolute', left: 0, top: 0, pointerEvents: 'none' }}>
      <defs>
        <linearGradient id="hg" x1="0" y1="0" x2="0" y2="1">
          {[2, 1.5, 1, 0.5, 0, -0.5, -1, -2].map((v) => <stop key={v} offset={(2 - v) / 4} stopColor={ramp(heatStops, v)} />)}
        </linearGradient>
        <linearGradient id="pg" x1="0" y1="0" x2="0" y2="1">
          {pStops.slice().reverse().map(([v, c]) => <stop key={v} offset={(9.2 - v) / 8.8} stopColor={c} />)}
        </linearGradient>
        <linearGradient id="fg" x1="0" y1="0" x2="1" y2="0">
          {fcStops.map(([v, c]) => <stop key={v} offset={(v + 2) / 9} stopColor={c} />)}
        </linearGradient>
      </defs>
      {letters.map(([s, x, y]) => <text key={s} x={x} y={y} fontSize={100} fontWeight="bold" fontFamily={SERIF} fill="#111">{s}</text>)}

      {/* a */}
      <text x={688} y={92} textAnchor="middle" fontSize={34} fontFamily={SERIF} fill="#222">OPLS-DA</text>
      <text x={688} y={839} textAnchor="middle" fontSize={26} fontFamily={SERIF} fill="#222">PC1(32.1%)</text>
      <text transform="rotate(-90 169 447)" x={169} y={456} textAnchor="middle" fontSize={26} fontFamily={SERIF} fill="#222">PCo1(16.7%)</text>
      <circle cx={1192} cy={433} r={10.5} fill="#f26f0f" />
      <circle cx={1192} cy={472} r={10.5} fill="#1560a8" />
      <text x={1224} y={440} fontSize={20} fontFamily={SERIF} fill="#333">E</text>
      <text x={1224} y={479} fontSize={20} fontFamily={SERIF} fill="#333">C</text>

      {/* b */}
      <text x={1843} y={83} textAnchor="middle" fontSize={20} fontFamily={SANS} fill="#333">E−vs−C: q−value&lt;0.05 &amp;&amp; |log<tspan dy={4} fontSize={13}>2</tspan><tspan dy={-4}> FC|&gt;1</tspan></text>
      <text x={1843} y={861} textAnchor="middle" fontSize={21} fontFamily={SANS} fill="#333">log<tspan dy={5} fontSize={14}>2</tspan><tspan dy={-5}> FoldChange</tspan></text>
      <text transform="rotate(-90 1459 459)" x={1459} y={466} textAnchor="middle" fontSize={20} fontFamily={SANS} fill="#333">−log<tspan dy={5} fontSize={13}>10</tspan><tspan dy={-5}>q−value</tspan></text>
      {['Down', 'q < 0.05: 2032', 'log2FC < −1: 807', 'Sig. : 331'].map((s, i) => <text key={s} x={1541} y={128 + i * 20.3} fontSize={15.5} fontFamily={SANS} fill="#444">{s}</text>)}
      {['Up', 'q < 0.05: 2374', 'log2FC > 1: 598', 'Sig. : 250'].map((s, i) => <text key={s} x={2040.6} y={128 + i * 20.3} fontSize={15.5} fontFamily={SANS} fill="#444">{s}</text>)}
      {legendB.map(([s, c], i) => (
        <g key={s}>
          <circle cx={2216.6} cy={418 + i * 23} r={3.6} fill={c} />
          <text x={2240} y={424 + i * 23} fontSize={15.7} fontFamily={SANS} fill="#444">{s}</text>
        </g>
      ))}

      {/* c */}
      <text x={208} y={1061} fontSize={35} fontWeight="bold" fontFamily={SANS} fill="#222">E−vs−C: q−value&lt;0.05 &amp;&amp; |log<tspan dy={7} fontSize={23}>2</tspan><tspan dy={-7}> FC|&gt;1</tspan></text>
      <text x={864} y={1254} fontSize={27} fontWeight="bold" fontFamily={SANS} fill="#222">group</text>
      {heatGenes.map((g, i) => (
        <g key={g}>
          <line x1={864} y1={heatLeaderFrom[i]} x2={918} y2={heatGeneY[i]} stroke="#c9c9c9" strokeWidth={2} />
          <text x={933} y={heatGeneY[i] + 9} fontSize={26} fontFamily={SANS} fill="#333">{g}</text>
        </g>
      ))}
      <rect x={1203.6} y={1226} width={26.4} height={406} fill="url(#hg)" />
      {[['2', 1227.5], ['1', 1329], ['0', 1430], ['−1', 1531.6], ['−2', 1632]].map(([s, y]) => <text key={s as string} x={1241} y={(y as number) + 9} fontSize={26} fontFamily={SANS} fill="#333">{s}</text>)}
      <text x={1281} y={1247} fontSize={27} fontWeight="bold" fontFamily={SANS} fill="#222">group</text>
      <rect x={1281} y={1256} width={39} height={38} fill="#74c3f3" />
      <rect x={1281} y={1295} width={39} height={38} fill="#f4a15c" />
      <text x={1328} y={1284} fontSize={26} fontFamily={SANS} fill="#333">E</text>
      <text x={1328} y={1323} fontSize={26} fontFamily={SANS} fill="#333">C</text>

      {/* d */}
      <text x={2015} y={2259} textAnchor="middle" fontSize={27} fontFamily={SANS} fill="#222">logFC</text>
      <rect x={1963} y={2262} width={106} height={43} fill="url(#fg)" />
      <text x={1963} y={2318} textAnchor="middle" fontSize={17} fontFamily={SANS} fill="#333">−2</text>
      <text x={2069} y={2318} textAnchor="middle" fontSize={17} fontFamily={SANS} fill="#333">7</text>
      {termNames.map((s, i) => {
        const col = i % 2, row = Math.floor(i / 2);
        return (
          <g key={s}>
            <rect x={col ? 1981 : 1705} y={ySlots[row] - 10} width={20.6} height={20.6} fill={swatch[i]} />
            <text x={col ? 2005 : 1728} y={ySlots[row] + 6} fontSize={17} fontFamily={SANS} fill="#333">{s}</text>
          </g>
        );
      })}

      {/* e */}
      {eBoxes.map((b, k) => (
        <g key={k}>
          <rect x={3785} y={b.top - 1} width={45} height={b.bottom - b.top + 2} fill="#e0e0e0" />
          <text transform={`rotate(90 3806 ${(b.top + b.bottom) / 2})`} x={3806} y={(b.top + b.bottom) / 2 + 6} textAnchor="middle" fontSize={19} fontFamily={DJ} fill="#333">{ePanels[k].strip}</text>
        </g>
      ))}
      <text x={3475} y={1843} textAnchor="middle" fontSize={33} fontFamily={DJ} fill="#222">Enrichment Score</text>
      <text x={3881} y={612} fontSize={32} fontFamily={DJ} fill="#222">Number</text>
      {sizeLegend.map((n, i) => (
        <g key={n}>
          <circle cx={3905} cy={[657, 709, 760, 812.5][i]} r={numR(n)} fill="#000" />
          <text x={3947.6} y={[657, 709, 760, 812.5][i] + 10} fontSize={26} fontFamily={DJ} fill="#222">{n}</text>
        </g>
      ))}
      <text x={3881} y={933} fontSize={32} fontFamily={DJ} fill="#222">pvalue</text>
      <rect x={3881} y={952} width={50.6} height={260} fill="url(#pg)" />
      {pTicks.map(([s, sup, y]) => (
        <text key={s} x={4054} y={y + 8} textAnchor="end" fontSize={22} fontFamily={SERIF} fill="#333">{s}<tspan dy={-8} fontSize={14}>{sup}</tspan></text>
      ))}
    </svg>
  );
};

export default function App() {
  return (
    <div style={{ position: 'absolute', left: 0, top: 0, width: 4077, height: 2600, background: '#fff', overflow: 'hidden' }}>
      <PanelA />
      <PanelB />
      <PanelC />
      <PanelD />
      <PanelE />
      <Overlay />
    </div>
  );
}
